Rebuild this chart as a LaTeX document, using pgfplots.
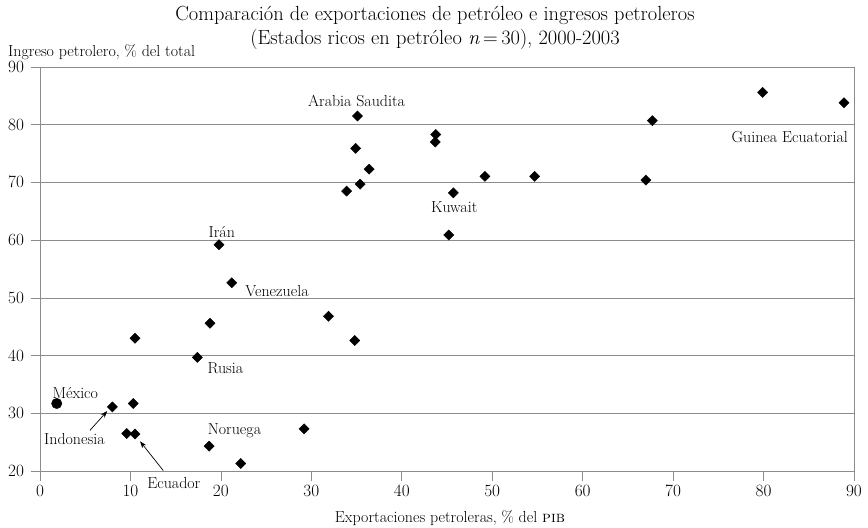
\documentclass[border=0pt]{standalone}
\usepackage{pgfplots}
\pgfplotsset{compat=1.18}
\usetikzlibrary{arrows.meta}
\begin{document}
\begin{tikzpicture}
\def\fs{\fontsize{16}{19}\selectfont}
\begin{axis}[name=ax, scale only axis, width=814bp, height=404bp,
 xmin=0, xmax=90, ymin=20, ymax=90,
 xtick={0,10,...,90}, ytick={20,30,...,90},
 tick pos=left, tick align=outside, major tick length=9.5bp,
 ymajorgrids, grid style={draw=gray!90, line width=0.7pt},
 axis line style={draw=gray!90, line width=0.7pt},
 tick style={draw=gray!90, line width=0.7pt},
 tick label style={font=\fs},
 xticklabel style={yshift=-1.5bp},
 yticklabel style={xshift=-3bp},
 clip=false]
\addplot[only marks, mark=square*, mark size=3.6bp,
  mark options={rotate=45, fill=black, draw=black}] coordinates {
 (8.0,31.1) (10.3,31.7) (9.6,26.5) (10.5,26.4) (17.4,39.7)
 (18.7,24.3) (22.2,21.3) (29.2,27.3) (19.8,59.2) (21.2,52.6)
 (18.8,45.6) (31.9,46.8) (10.5,43.0) (34.8,42.6) (35.1,81.5)
 (43.75,78.3) (43.7,77.0) (34.9,75.9) (36.4,72.3) (49.2,71.05)
 (54.7,71.05) (67.0,70.4) (35.4,69.7) (33.9,68.5) (45.7,68.2)
 (45.2,60.9) (67.7,80.7) (79.9,85.6) (88.9,83.8)
};
\addplot[only marks, mark=*, mark size=5.2bp, black] coordinates {(1.85,31.7)};
\node[font=\fs] at (axis cs:35.0,84.1) {Arabia Saudita};
\node[font=\fs] at (axis cs:82.9,77.9) {Guinea Ecuatorial};
\node[font=\fs] at (axis cs:45.8,65.8) {Kuwait};
\node[font=\fs] at (axis cs:20.1,61.4) {Irán};
\node[font=\fs] at (axis cs:26.2,51.2) {Venezuela};
\node[font=\fs] at (axis cs:20.5,37.75) {Rusia};
\node[font=\fs] at (axis cs:3.9,33.5) {México};
\node[font=\fs] at (axis cs:3.8,25.5) {Indonesia};
\node[font=\fs] at (axis cs:21.5,27.05) {Noruega};
\node[font=\fs] at (axis cs:14.8,18.0) {Ecuador};
\draw[-{Stealth[length=7bp,width=5bp]}, line width=0.7pt] (axis cs:5.53,27.05) -- (axis cs:7.44,30.4);
\draw[-{Stealth[length=7bp,width=5bp]}, line width=0.7pt] (axis cs:13.63,20.07) -- (axis cs:11.06,25.15);
\end{axis}
\coordinate (O) at ([xshift=-40bp,yshift=-57bp]ax.south west);
\node[font=\fontsize{20.5}{24}\selectfont] at ([xshift=435bp,yshift=513bp]O) {Comparación de exportaciones de petróleo e ingresos petroleros};
\node[font=\fontsize{20.5}{24}\selectfont] at ([xshift=435bp,yshift=489bp]O) {(Estados ricos en petróleo \textit{n}\,=\,30), 2000-2003};
\node[font=\fs, anchor=west, inner sep=0pt] at ([xshift=8bp,yshift=476bp]O) {Ingreso petrolero, \% del total};
\node[font=\fs] at ([xshift=450bp,yshift=10bp]O) {Exportaciones petroleras, \% del \textsc{pib}};
\pgfresetboundingbox
\path (O) rectangle ([xshift=868bp,yshift=528bp]O);
\end{tikzpicture}
\end{document}
